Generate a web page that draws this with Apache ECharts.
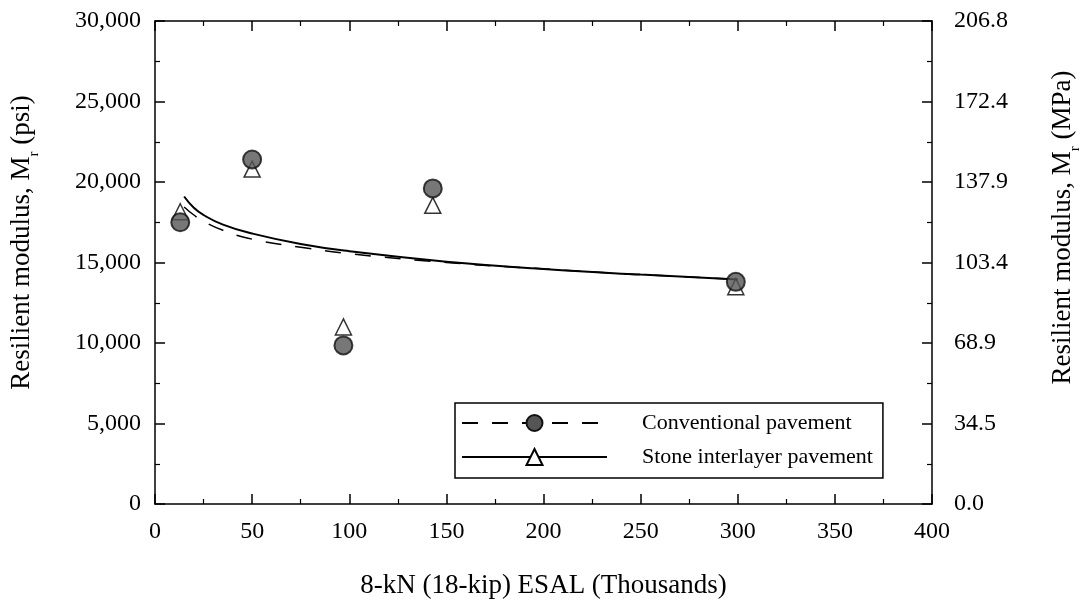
<!DOCTYPE html>
<html>
<head>
<meta charset="utf-8">
<script src="https://cdn.jsdelivr.net/npm/echarts@6/dist/echarts.min.js"></script>
<style>html,body{margin:0;padding:0;background:#fff;}#c{width:1083px;height:611px;}</style>
</head>
<body>
<div id="c"></div>
<script>
// Data
var esal = [13, 50, 97, 143, 299];
var conventional = [17500, 21400, 9850, 19600, 13800];
var stoneInterlayer = [18150, 20800, 11000, 18550, 13500];

var fitX = [15, 20, 25, 35, 50, 75, 100, 150, 200, 250, 300];
var conventionalFit = [18450, 17950, 17550, 17000, 16450, 15950, 15550, 15000, 14600, 14250, 13950];
var stoneFit = [19100, 18400, 17950, 17350, 16800, 16150, 15700, 15050, 14600, 14250, 13950];

var xTicks = [0, 50, 100, 150, 200, 250, 300, 350, 400];
var yTicksPsi = [0, 5000, 10000, 15000, 20000, 25000, 30000];
var yTicksMPa = ['0.0', '34.5', '68.9', '103.4', '137.9', '172.4', '206.8'];

function pairs(xs, ys) { return xs.map(function (x, i) { return [x, ys[i]]; }); }

var FONT = 'Liberation Serif';
var chart = echarts.init(document.getElementById('c'));

function ticks() {
  return {
    axisLine: { show: true, onZero: false, lineStyle: { color: '#000', width: 1.5 } },
    axisTick: { show: true, inside: true, length: 10, lineStyle: { color: '#000', width: 1.5 } },
    minorTick: { show: true, splitNumber: 2, length: 5, lineStyle: { color: '#000', width: 1.2 } },
    splitLine: { show: false }
  };
}
var subRich = { sub: { fontFamily: FONT, fontSize: 15, color: '#000', verticalAlign: 'bottom', padding: [0, 0, -7, 0] } };

var option = {
  backgroundColor: '#fff',
  animation: false,
  textStyle: { fontFamily: FONT, color: '#000' },
  grid: { left: 155, right: 151, top: 21, bottom: 107, containLabel: false, outerBoundsMode: 'none' },
  xAxis: [
    Object.assign({
      type: 'value', min: 0, max: 400, interval: 50, position: 'bottom',
      axisLabel: { fontFamily: FONT, fontSize: 24, color: '#000', margin: 16,
        formatter: function (v) { return xTicks.indexOf(v) >= 0 ? String(v) : ''; } },
      name: '8-kN (18-kip) ESAL (Thousands)', nameLocation: 'middle', nameGap: 68,
      nameTextStyle: { fontFamily: FONT, fontSize: 27, color: '#000' }
    }, ticks()),
    Object.assign({
      type: 'value', min: 0, max: 400, interval: 50, position: 'top',
      axisLabel: { show: false }
    }, ticks())
  ],
  yAxis: [
    Object.assign({
      type: 'value', min: 0, max: 30000, interval: 5000, position: 'left',
      axisLabel: { fontFamily: FONT, fontSize: 24, color: '#000', margin: 14,
        formatter: function (v) { return yTicksPsi.indexOf(v) >= 0 ? v.toLocaleString('en-US') : ''; } },
      name: 'Resilient modulus, M{sub|r} (psi)', nameLocation: 'middle', nameGap: 120, nameRotate: 90,
      nameTextStyle: { fontFamily: FONT, fontSize: 27, color: '#000', rich: subRich, padding: [0, 0, 0, 40] }
    }, ticks()),
    Object.assign({
      type: 'value', min: 0, max: 30000, interval: 5000, position: 'right',
      axisLabel: { fontFamily: FONT, fontSize: 24, color: '#000', margin: 22,
        formatter: function (v) { var i = yTicksPsi.indexOf(v); return i >= 0 ? yTicksMPa[i] : ''; } },
      name: 'Resilient modulus, M{sub|r} (MPa)', nameLocation: 'middle', nameGap: 117, nameRotate: 90,
      nameTextStyle: { fontFamily: FONT, fontSize: 27, color: '#000', rich: subRich, padding: [0, 0, 0, 70] }
    }, ticks())
  ],
  legend: {
    orient: 'vertical', left: 455, top: 403, width: 428,
    padding: [9, 10, 10, 6], itemGap: 12, itemWidth: 145, itemHeight: 20,
    borderColor: '#000', borderWidth: 1.5, backgroundColor: '#fff',
    textStyle: { fontFamily: FONT, fontSize: 22, color: '#000', padding: [0, 0, 0, 30] },
    data: [
      { name: 'Conventional pavement' },
      { name: 'Stone interlayer pavement' }
    ]
  },
  series: [
    {
      name: 'Conventional pavement', type: 'line', xAxisIndex: 0, yAxisIndex: 0,
      data: pairs(fitX, conventionalFit), smooth: true, showSymbol: false, symbol: 'circle', symbolSize: 17,
      lineStyle: { color: '#000', width: 1.5, type: [16, 14] },
      itemStyle: { color: '#555', borderColor: '#111', borderWidth: 2 }, z: 2
    },
    {
      name: 'Stone interlayer pavement', type: 'line', xAxisIndex: 0, yAxisIndex: 0,
      data: pairs(fitX, stoneFit), smooth: true, showSymbol: false, symbol: 'triangle', symbolSize: 15,
      lineStyle: { color: '#000', width: 2 },
      itemStyle: { color: '#fff', borderColor: '#000', borderWidth: 1.5 }, z: 2
    },
    {
      name: 'Conventional pavement', type: 'scatter', xAxisIndex: 0, yAxisIndex: 0,
      data: pairs(esal, conventional), symbol: 'circle', symbolSize: 18,
      itemStyle: { color: '#555', borderColor: '#111', borderWidth: 2 }, z: 4
    },
    {
      name: 'Stone interlayer pavement', type: 'scatter', xAxisIndex: 0, yAxisIndex: 0,
      data: pairs(esal, stoneInterlayer), symbol: 'triangle', symbolSize: 16,
      itemStyle: { color: '#fff', borderColor: '#000', borderWidth: 1.5 }, z: 3
    }
  ]
};
chart.setOption(option);
</script>
</body>
</html>
